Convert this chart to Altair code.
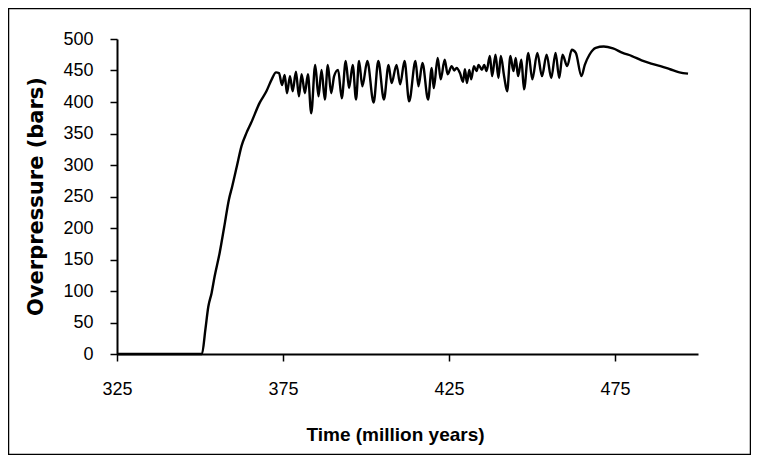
import altair as alt
import pandas as pd

# ---- data ----
time_myr = [
    325.0, 350.6, 351.6, 352.5, 353.5, 354.4, 355.9, 357.3, 358.7, 359.7,
    361.1, 362.5, 364.0, 365.4, 368.0, 370.0, 371.6, 372.9, 373.8,
    374.7, 375.5, 376.2, 377.1, 377.9, 378.9, 379.8, 380.6, 381.6, 382.5,
    383.5, 384.7, 385.7, 386.6, 387.6, 388.5, 389.5, 390.4, 391.6, 392.7,
    393.9, 394.9, 396.0, 397.0, 397.9, 398.9,
    400.4, 402.3, 403.7, 405.4, 406.8, 407.7, 409.2, 410.3, 411.6, 413.0,
    414.9, 415.8, 417.0, 418.7, 419.8, 420.4, 421.6, 422.5, 423.7, 424.6,
    425.8, 426.6, 427.3, 428.3, 429.2, 429.8, 430.4, 431.1, 431.7, 432.5,
    433.3, 433.9, 434.9, 435.6, 436.3, 437.3, 438.0, 439.0, 439.9, 440.6,
    441.6, 442.5, 443.5, 444.4, 445.1, 445.8, 446.8, 447.6, 448.9, 450.1,
    451.6, 453.0, 454.4, 455.8, 457.1, 458.2, 459.2, 460.6, 462.0, 463.2,
    464.9, 465.9, 467.3, 469.2, 471.6, 474.4, 477.3, 480.1, 483.0, 485.9,
    488.7, 491.6, 494.4, 497.0,
]
overpressure_bars = [
    0, 0, 38, 75, 97, 123, 160, 202, 245, 266,
    298, 330, 351, 367, 399, 417, 436, 447, 446,
    427, 443, 414, 441, 417, 448, 409, 444, 414, 444,
    382, 459, 409, 451, 404, 459, 414, 441, 451, 406,
    465, 422, 459, 404, 465, 425,
    465, 399, 465, 404, 459, 430, 459, 428, 465, 401,
    465, 425, 462, 404, 454, 422, 470, 436, 467, 444,
    457, 450, 454, 446, 432, 452, 430, 451, 436, 457,
    449, 459, 451, 459, 449, 473, 441, 475, 438, 473,
    441, 417, 473, 449, 470, 441, 467, 420, 478, 436,
    478, 441, 475, 438, 478, 438, 475, 457, 483, 478,
    441, 459, 475, 486, 488, 485, 478, 473, 466, 461,
    457, 452, 447, 445,
]
x_ticks = [325, 375, 425, 475]
y_ticks = [0, 50, 100, 150, 200, 250, 300, 350, 400, 450, 500]
x_domain = [325, 500]
y_domain = [0, 500]

df = pd.DataFrame({"t": time_myr, "p": overpressure_bars})

W, H = 581, 315

line = alt.Chart(df).mark_line(
    color="black", strokeWidth=2.4, interpolate="monotone"
).encode(
    x=alt.X(
        "t:Q",
        scale=alt.Scale(domain=x_domain, nice=False, zero=False),
        axis=alt.Axis(
            values=x_ticks,
            title="Time (million years)",
            labelPadding=19,
            labelFlush=False,
            titleFont="Liberation Sans",
            titleFontWeight="bold",
            titleFontSize=19,
            titleX=278,
            titleY=80,
            titleAlign="center",
            titleBaseline="middle",
            titleAngle=0,
        ),
    ),
    y=alt.Y(
        "p:Q",
        scale=alt.Scale(domain=y_domain, nice=False, zero=True),
        axis=alt.Axis(
            values=y_ticks,
            title="Overpressure (bars)",
            labelPadding=17,
            labelFlush=False,
            titleFont="DejaVu Sans",
            titleFontWeight="bold",
            titleFontSize=21,
            titleX=-81,
            titleY=157,
            titleAlign="center",
            titleBaseline="middle",
            titleAngle=270,
        ),
    ),
)

border = alt.Chart(pd.DataFrame({"a": [0]})).mark_rect(
    fillOpacity=0, stroke="black", strokeWidth=1.5
).encode(
    x=alt.value(-108.5), x2=alt.value(633.5),
    y=alt.value(-30.5), y2=alt.value(415.5),
)

chart = alt.layer(border, line).properties(
    width=W,
    height=H,
    autosize=alt.AutoSizeParams(type="none"),
    padding={"left": 109, "top": 31, "right": 53, "bottom": 101},
).configure_view(
    strokeWidth=0
).configure_axis(
    grid=False,
    domainColor="black",
    domainWidth=2,
    tickColor="black",
    tickWidth=1.5,
    tickSize=7,
    labelFont="Liberation Sans",
    labelFontSize=18,
    labelColor="black",
    titleColor="black",
)

chart.save("out.html", embed_options={"renderer": "svg", "actions": False})
